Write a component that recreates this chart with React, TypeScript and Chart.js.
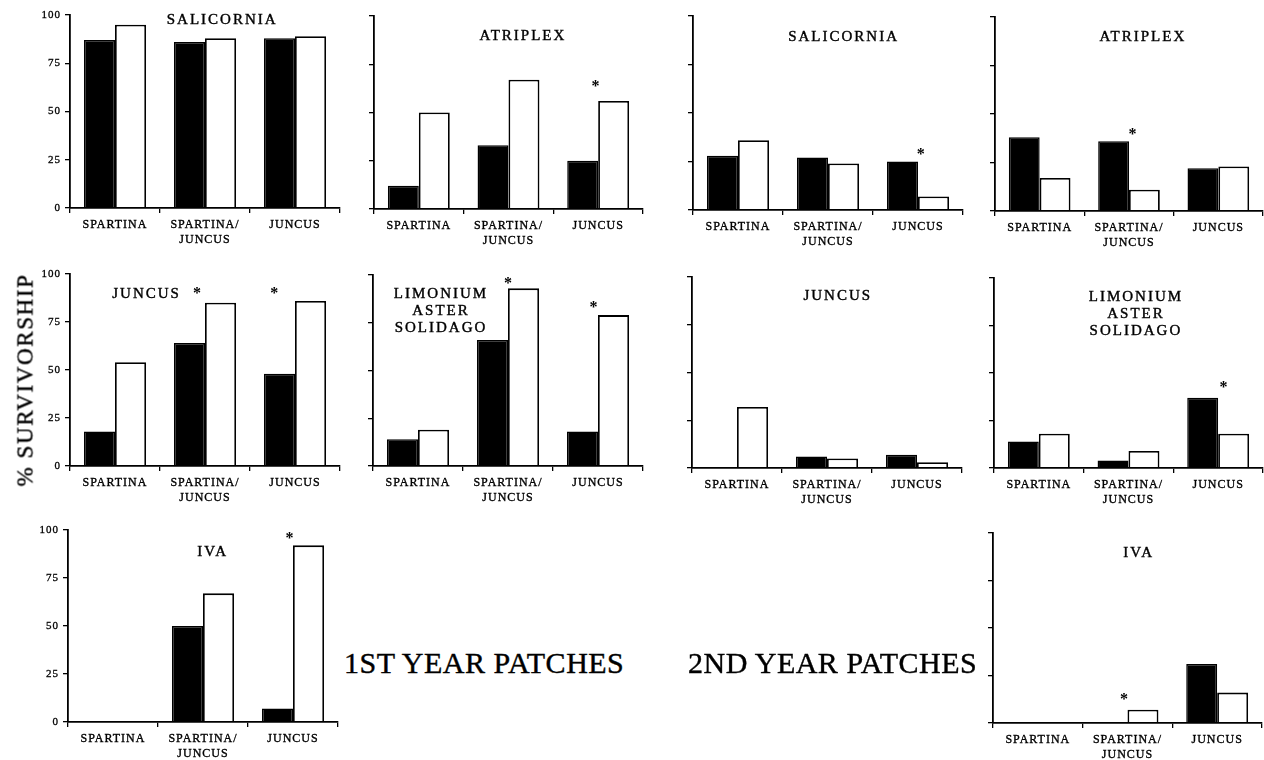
import React, { useEffect, useRef } from "react";
import { Chart, registerables } from "chart.js";

Chart.register(...registerables);

const SERIF = '"Liberation Serif", "Times New Roman", serif';

// Habitat categories on every x axis (multi-line labels)
const habitats: string[][] = [["SPARTINA"], ["SPARTINA/", "JUNCUS"], ["JUNCUS"]];
const yTickValues = [0, 25, 50, 75, 100];

// 1st year patches: % survivorship (black and white bars)
const salicornia1Black = [87, 86, 88];
const salicornia1White = [95, 88, 89];
const atriplex1Black = [12, 33, 25];
const atriplex1White = [50, 67, 56];
const juncus1Black = [18, 64, 48];
const juncus1White = [54, 85, 86];
const limonium1Black = [14, 66, 18];
const limonium1White = [19, 93, 79];
const iva1Black = [0, 50, 7];
const iva1White = [0, 67, 92];

// 2nd year patches: % survivorship (black and white bars)
const salicornia2Black = [28, 27, 25];
const salicornia2White = [36, 24, 7];
const atriplex2Black = [38, 36, 22];
const atriplex2White = [17, 11, 23];
const juncus2Black = [0, 6, 7];
const juncus2White = [32, 5, 3];
const limonium2Black = [14, 4, 37];
const limonium2White = [18, 9, 18];
const iva2Black = [0, 0, 31];
const iva2White = [0, 7, 16];

// Significance asterisks: habitat index, height in % units, sideways nudge in category units
type Star = { cat: number; level: number; dx: number };
const atriplex1Stars: Star[] = [{ cat: 2, level: 66, dx: -0.03 }];
const juncus1Stars: Star[] = [
  { cat: 1, level: 92, dx: -0.09 },
  { cat: 2, level: 92, dx: -0.23 },
];
const limonium1Stars: Star[] = [
  { cat: 1, level: 98, dx: 0 },
  { cat: 2, level: 85.5, dx: -0.05 },
];
const iva1Stars: Star[] = [{ cat: 2, level: 98, dx: -0.04 }];
const salicornia2Stars: Star[] = [{ cat: 2, level: 31, dx: 0.03 }];
const atriplex2Stars: Star[] = [{ cat: 1, level: 42, dx: 0.04 }];
const limonium2Stars: Star[] = [{ cat: 2, level: 45, dx: 0.06 }];
const iva2Stars: Star[] = [{ cat: 1, level: 15, dx: -0.04 }];

// Panel frame geometry
const YW = 50; // y-axis strip width
const XH = 46; // x-axis strip height
const PT = 12; // space above plot area
const PR = 6; // space right of plot area

type Box = { l: number; t: number; r: number; b: number };
type PanelSpec = {
  key: string;
  box: Box;
  black: number[];
  white: number[];
  title: string[];
  titleX: number;
  titleY: number;
  stars: Star[];
  yLabels: boolean;
};

const panels: PanelSpec[] = [
  { key: "sal1", box: { l: 70, t: 15, r: 340, b: 208 }, black: salicornia1Black, white: salicornia1White, title: ["SALICORNIA"], titleX: 0.56, titleY: 5, stars: [], yLabels: true },
  { key: "atr1", box: { l: 374, t: 16, r: 643, b: 209 }, black: atriplex1Black, white: atriplex1White, title: ["ATRIPLEX"], titleX: 0.55, titleY: 20, stars: atriplex1Stars, yLabels: false },
  { key: "sal2", box: { l: 693, t: 16, r: 963, b: 210 }, black: salicornia2Black, white: salicornia2White, title: ["SALICORNIA"], titleX: 0.554, titleY: 21, stars: salicornia2Stars, yLabels: false },
  { key: "atr2", box: { l: 995, t: 17, r: 1263, b: 211 }, black: atriplex2Black, white: atriplex2White, title: ["ATRIPLEX"], titleX: 0.548, titleY: 20, stars: atriplex2Stars, yLabels: false },
  { key: "jun1", box: { l: 70, t: 274, r: 340, b: 466 }, black: juncus1Black, white: juncus1White, title: ["JUNCUS"], titleX: 0.28, titleY: 20, stars: juncus1Stars, yLabels: true },
  { key: "lim1", box: { l: 373, t: 275, r: 643, b: 466 }, black: limonium1Black, white: limonium1White, title: ["LIMONIUM", "ASTER", "SOLIDAGO"], titleX: 0.248, titleY: 19, stars: limonium1Stars, yLabels: false },
  { key: "jun2", box: { l: 692, t: 277, r: 962, b: 468 }, black: juncus2Black, white: juncus2White, title: ["JUNCUS"], titleX: 0.536, titleY: 19, stars: [], yLabels: false },
  { key: "lim2", box: { l: 994, t: 278, r: 1263, b: 468 }, black: limonium2Black, white: limonium2White, title: ["LIMONIUM", "ASTER", "SOLIDAGO"], titleX: 0.524, titleY: 19, stars: limonium2Stars, yLabels: false },
  { key: "iva1", box: { l: 68, t: 530, r: 338, b: 722 }, black: iva1Black, white: iva1White, title: ["IVA"], titleX: 0.532, titleY: 22, stars: iva1Stars, yLabels: true },
  { key: "iva2", box: { l: 993, t: 533, r: 1262, b: 723 }, black: iva2Black, white: iva2White, title: ["IVA"], titleX: 0.538, titleY: 20, stars: iva2Stars, yLabels: false },
];

// Species title and asterisks drawn inside each panel
const panelMarks = {
  id: "panelMarks",
  beforeDraw(chart: any) {
    chart.ctx.letterSpacing = "1px";
  },
  afterDraw(chart: any, _args: any, opts: any) {
    const { ctx, chartArea, scales } = chart;
    ctx.save();
    ctx.fillStyle = "#000";
    ctx.strokeStyle = "#000";
    ctx.lineWidth = 0.4;
    ctx.letterSpacing = "2px";
    ctx.font = `15px ${SERIF}`;
    ctx.textAlign = "center";
    ctx.textBaseline = "middle";
    const cx = chartArea.left + opts.titleX * (chartArea.right - chartArea.left) + 1;
    (opts.title as string[]).forEach((line, i) => {
      const y = chartArea.top + opts.titleY + i * 17;
      ctx.fillText(line, cx, y);
      ctx.strokeText(line, cx, y);
    });
    ctx.letterSpacing = "0px";
    ctx.font = `bold 16px ${SERIF}`;
    ctx.textBaseline = "alphabetic";
    for (const s of opts.stars as Star[]) {
      const x = scales.x.getPixelForValue(s.cat + s.dx);
      const y = scales.y.getPixelForValue(s.level);
      ctx.fillText("*", x, y + 9);
    }
    ctx.restore();
  },
};

function Panel({ spec }: { spec: PanelSpec }) {
  const ref = useRef<HTMLCanvasElement>(null);
  const { box } = spec;
  const width = YW + (box.r - box.l) + PR;
  const height = PT + (box.b - box.t) + XH;

  useEffect(() => {
    const canvas = ref.current;
    if (!canvas) return;
    const chart = new Chart(canvas, {
      type: "bar",
      data: {
        labels: habitats,
        datasets: [
          {
            data: spec.black,
            backgroundColor: "#000",
            borderColor: "#000",
            borderWidth: 1.5,
            categoryPercentage: 0.69,
            barPercentage: 1,
          },
          {
            data: spec.white,
            backgroundColor: "#fff",
            borderColor: "#000",
            borderWidth: 1.8,
            categoryPercentage: 0.69,
            barPercentage: 1,
          },
        ],
      },
      options: {
        responsive: false,
        animation: false,
        events: [],
        layout: { padding: { top: PT, right: PR, left: 0, bottom: 0 } },
        plugins: {
          legend: { display: false },
          tooltip: { enabled: false },
          panelMarks: {
            title: spec.title,
            titleX: spec.titleX,
            titleY: spec.titleY,
            stars: spec.stars,
          },
        } as any,
        scales: {
          x: {
            type: "category",
            offset: true,
            grid: {
              offset: true,
              drawOnChartArea: false,
              drawTicks: true,
              tickLength: 5,
              color: "#000",
              lineWidth: 1.3,
            },
            border: { display: true, color: "#000", width: 1.8, z: 1 },
            ticks: {
              color: "#000",
              font: { family: SERIF, size: 12, lineHeight: 1.25 },
              padding: 4,
              maxRotation: 0,
              autoSkip: false,
              textStrokeColor: "#000",
              textStrokeWidth: 0.35,
            },
            afterFit: (s: any) => {
              s.height = XH;
            },
          },
          y: {
            min: 0,
            max: 100,
            afterBuildTicks: (s: any) => {
              s.ticks = yTickValues.map((v) => ({ value: v }));
            },
            grid: {
              drawOnChartArea: false,
              drawTicks: true,
              tickLength: 5,
              color: "#000",
              lineWidth: 1.3,
            },
            border: { display: true, color: "#000", width: 1.8 },
            ticks: {
              color: "#000",
              font: { family: SERIF, size: 11 },
              padding: 4,
              textStrokeColor: "#000",
              textStrokeWidth: 0.3,
              callback: (v: any) => (spec.yLabels ? String(v) : ""),
            },
            afterFit: (s: any) => {
              s.width = YW;
            },
          },
        },
      },
      plugins: [panelMarks],
    });
    return () => chart.destroy();
  }, [spec]);

  return (
    <canvas
      ref={ref}
      width={width}
      height={height}
      style={{
        position: "absolute",
        left: box.l - YW,
        top: box.t - PT,
        width,
        height,
      }}
    />
  );
}

const bigText: React.CSSProperties = {
  position: "absolute",
  whiteSpace: "nowrap",
  lineHeight: 1,
  WebkitTextStroke: "0.4px #000",
};

export default function App() {
  return (
    <div
      style={{
        position: "absolute",
        left: 0,
        top: 0,
        width: 1264,
        height: 760,
        overflow: "hidden",
        background: "#fff",
        fontFamily: SERIF,
        color: "#000",
      }}
    >
      {panels.map((p) => (
        <Panel key={p.key} spec={p} />
      ))}
      <div
        style={{
          ...bigText,
          left: 25,
          top: 380,
          transform: "translate(-50%, -50%) rotate(-90deg)",
          fontSize: 23,
          letterSpacing: "1.6px",
        }}
      >
        % SURVIVORSHIP
      </div>
      <div
        style={{
          ...bigText,
          left: 344,
          top: 663,
          transform: "translateY(-50%)",
          fontSize: 30,
          letterSpacing: "0.5px",
        }}
      >
        1ST YEAR PATCHES
      </div>
      <div
        style={{
          ...bigText,
          left: 688,
          top: 663,
          transform: "translateY(-50%)",
          fontSize: 30,
          letterSpacing: "0.5px",
        }}
      >
        2ND YEAR PATCHES
      </div>
    </div>
  );
}
